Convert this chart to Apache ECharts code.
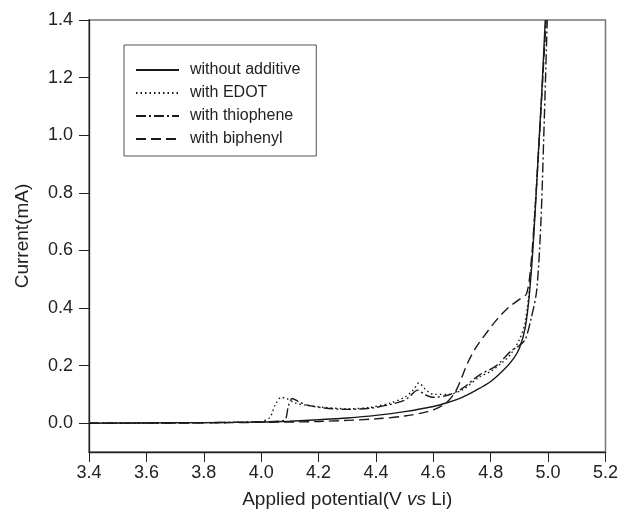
<!DOCTYPE html>
<html>
<head>
<meta charset="utf-8">
<script src="https://cdn.jsdelivr.net/npm/echarts@6/dist/echarts.min.js"></script>
<style>html,body{margin:0;padding:0;background:#fff}#c{width:621px;height:517px}</style>
</head>
<body>
<div id="c"></div>
<script>
const seriesNames = ['without additive', 'with EDOT', 'with thiophene', 'with biphenyl'];

const vNone = [3.40,3.60,3.80,4.00,4.10,4.20,4.30,4.40,4.50,4.60,4.65,4.70,4.75,4.80,4.85,4.88,4.90,4.92,4.935,4.95,4.965,4.978,4.99];
const iNone = [0,0.001,0.002,0.004,0.007,0.012,0.018,0.027,0.04,0.058,0.072,0.09,0.115,0.145,0.19,0.225,0.26,0.33,0.45,0.65,0.92,1.15,1.4];

const vEdot = [3.40,3.70,3.90,4.00,4.03,4.05,4.07,4.09,4.12,4.16,4.22,4.30,4.38,4.45,4.50,4.53,4.55,4.57,4.60,4.65,4.70,4.76,4.80,4.84,4.87,4.90,4.92,4.938,4.955,4.97,4.992];
const iEdot = [0,0.001,0.003,0.006,0.02,0.065,0.09,0.085,0.07,0.062,0.055,0.05,0.055,0.07,0.09,0.115,0.14,0.12,0.1,0.1,0.115,0.16,0.18,0.21,0.24,0.29,0.35,0.5,0.75,1.0,1.4];

const vThio = [3.40,3.70,3.90,4.00,4.08,4.095,4.108,4.13,4.16,4.22,4.30,4.38,4.45,4.50,4.52,4.545,4.57,4.60,4.65,4.70,4.76,4.82,4.87,4.90,4.92,4.94,4.96,4.975,4.985,4.997];
const iThio = [0,0.001,0.003,0.005,0.01,0.06,0.086,0.075,0.063,0.053,0.048,0.052,0.065,0.08,0.095,0.115,0.1,0.09,0.097,0.12,0.167,0.2,0.25,0.27,0.29,0.36,0.46,0.7,1.0,1.4];

const vBiph = [3.40,3.80,4.00,4.20,4.40,4.50,4.58,4.62,4.65,4.68,4.72,4.75,4.79,4.82,4.86,4.90,4.925,4.94,4.955,4.97,4.993];
const iBiph = [0,0.001,0.003,0.006,0.015,0.025,0.04,0.055,0.075,0.115,0.21,0.265,0.32,0.358,0.4,0.43,0.45,0.55,0.75,1.0,1.4];

const xMin = 3.4, xMax = 5.2, xStep = 0.2;
const yMin = -0.1, yMax = 1.4;
const yTicks = [0, 0.2, 0.4, 0.6, 0.8, 1.0, 1.2, 1.4];

const pairs = (v, c) => v.map((x, k) => [x, c[k]]);
const dashes = ['solid', [1.5, 3], [10, 3, 2, 3], [10, 5]];
const allData = [pairs(vNone, iNone), pairs(vEdot, iEdot), pairs(vThio, iThio), pairs(vBiph, iBiph)];

const chart = echarts.init(document.getElementById('c'));
const font = 'Liberation Sans, Arial, sans-serif';
chart.setOption({
  animation: false,
  backgroundColor: '#fff',
  textStyle: { fontFamily: font },
  grid: { left: 89, right: 14, top: 20, bottom: 65, show: true, borderColor: '#777', borderWidth: 1.5 },
  legend: {
    orient: 'vertical', left: 124, top: 45,
    data: seriesNames,
    borderColor: '#555', borderWidth: 1,
    padding: [17, 16, 9, 11],
    itemGap: 7, itemWidth: 43, itemHeight: 14,
    itemStyle: { opacity: 0 },
    textStyle: { fontSize: 16, color: '#222', fontFamily: font, padding: [0, 0, 0, 6] }
  },
  xAxis: {
    type: 'value', min: xMin, max: xMax, interval: xStep,
    name: '{n|Applied potential(V }{i|vs}{n| Li)}',
    nameLocation: 'middle', nameGap: 38,
    nameTextStyle: { rich: { n: { fontSize: 19, color: '#222', fontFamily: font }, i: { fontSize: 19, color: '#222', fontStyle: 'italic', fontFamily: font } } },
    axisLine: { onZero: false, lineStyle: { color: '#222', width: 1.3 } },
    axisTick: { inside: false, length: 10, lineStyle: { color: '#222' } },
    axisLabel: { fontSize: 18, color: '#222', margin: 12, formatter: v => v.toFixed(1) },
    splitLine: { show: false }
  },
  yAxis: {
    type: 'value', min: yMin, max: yMax,
    name: 'Current(mA)', nameLocation: 'middle', nameGap: 57,
    nameTextStyle: { fontSize: 19, color: '#222' },
    axisLine: { onZero: false, lineStyle: { color: '#222', width: 1.3 } },
    axisTick: { inside: false, length: 10, lineStyle: { color: '#222' }, customValues: yTicks },
    axisLabel: { fontSize: 18, color: '#222', margin: 16, customValues: yTicks, formatter: v => v.toFixed(1) },
    splitLine: { show: false }
  },
  series: seriesNames.map((n, k) => ({
    name: n, type: 'line', data: allData[k], showSymbol: false, symbol: 'none', smooth: 0.3,
    lineStyle: { color: '#1a1a1a', width: 1.4, type: dashes[k] },
    itemStyle: { color: '#1a1a1a' }
  }))
});
</script>
</body>
</html>
